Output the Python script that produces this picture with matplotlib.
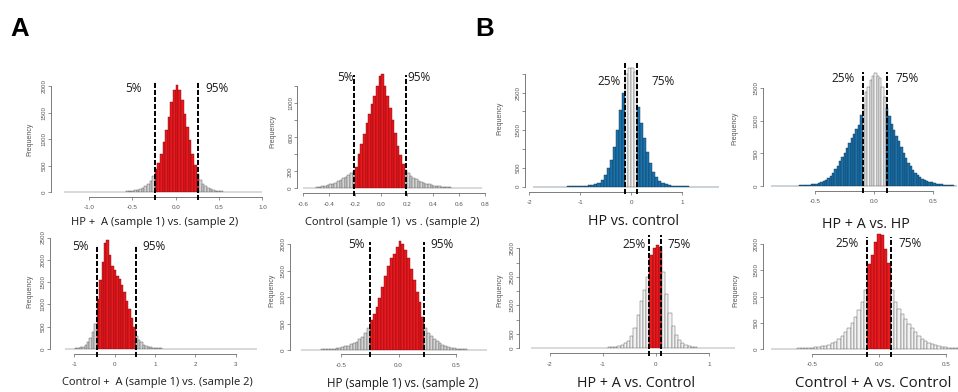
import numpy as np
import matplotlib.pyplot as plt

W, H = 958, 392

# ---- bin counts (left to right) ----
# panel A: sample-vs-sample comparisons, 5% / 95% cut lines
a1_counts = [0, 1, 0, 0, 1, 0, 1, 1, 0, 1, 2, 1, 2, 2, 3, 3, 4, 5, 6, 7, 8, 10,
             12, 15, 19, 24, 30, 38, 50, 65, 85, 115, 160, 220, 300,
             440, 560, 720, 950, 1170, 1420, 1700, 1930, 2010, 1930, 1740, 1470, 1230, 980, 720, 520, 340,
             230, 160, 115, 80, 58, 42, 30, 22, 16, 12, 9, 7, 5, 4, 3, 2, 2, 1, 1, 1, 0, 1, 0, 1]
a1_start, a1_width = -1.29, 0.03
a1_cuts = [-0.24, 0.26]

a2_counts = [3, 2, 4, 6, 8, 11, 16, 22, 28, 36, 45, 55, 68, 85, 100, 118, 135, 155, 178, 205,
             250, 400, 520, 640, 770, 880, 990, 1090, 1200, 1320, 1340, 1200, 1080, 950, 800, 650, 500, 390, 290,
             215, 175, 145, 122, 105, 88, 75, 64, 55, 46, 38, 32, 27, 22, 18, 15, 12, 10, 8, 7, 5, 4, 4, 3, 2, 2, 1, 1, 1, 1]
a2_start, a2_width = -0.6, 0.02
a2_cuts = [-0.207, 0.188]

a3_counts = [2, 3, 5, 8, 14, 22, 35, 55, 90, 150, 240, 380, 560,
             1130, 1550, 1960, 2380, 2450, 2100, 1850, 1770, 1640, 1560, 1440, 1270, 1080, 900, 700, 500,
             300, 210, 150, 100, 72, 52, 40, 30, 24, 18, 14, 11, 9, 7, 6, 5,
             4, 4, 3, 3, 3, 2, 2, 2, 2, 1, 1, 1, 1, 1, 1, 1, 0, 1, 1, 0, 1, 0, 1, 0, 0, 1, 0, 1, 0, 0, 1, 0, 0, 1]
a3_start, a3_width = -1.22, 0.06
a3_cuts = [-0.44, 0.52]

a4_counts = [2, 2, 3, 4, 5, 7, 9, 11, 14, 18, 22, 28, 35, 44, 55, 68, 85, 105, 130, 160, 200, 250, 320, 420,
             560, 680, 810, 990, 1190, 1400, 1600, 1740, 1810, 1960, 2070, 2010, 1890, 1740, 1540, 1330, 1100, 900, 620,
             420, 330, 270, 210, 165, 130, 100, 78, 60, 46, 35, 27, 20, 15, 11, 8, 6, 5, 3, 2, 2, 1]
a4_start, a4_width = -0.85, 0.025
a4_cuts = [-0.249, 0.226]

# panel B: group comparisons, 25% / 75% cut lines
b1_counts = [1, 0, 1, 1, 1, 2, 2, 3, 3, 4, 5, 6, 7, 9, 12, 15, 20, 28, 38, 52, 75, 110, 180, 310, 490, 710,
             1060, 1510, 2040, 2480,
             3010, 3170, 3160, 3060,
             2130, 1690, 1290, 930, 620, 400, 265, 160, 95, 62, 42, 30, 22, 16, 12, 9, 7, 5, 4, 3, 3, 2, 2, 1, 1, 1, 1]
b1_start, b1_width = -1.92, 0.06
b1_cuts = [-0.118, 0.11]

b2_counts = [1, 1, 0, 1, 2, 1, 2, 3, 3, 4, 5, 6, 8, 10, 13, 16, 20, 25, 30, 38, 48, 60, 75, 95, 125, 160, 205,
             255, 310, 380, 440, 500, 580, 660, 740, 790, 870, 930, 1090,
             1240, 1440, 1520, 1620, 1690, 1740, 1680, 1650, 1520, 1370,
             1190, 1080, 950, 860, 770, 690, 600, 510, 430, 360, 300, 250, 205, 170, 140, 115, 95, 80, 66, 55,
             45, 37, 30, 25, 20, 16, 12, 10, 8, 6]
b2_start, b2_width = -0.88, 0.02
b2_cuts = [-0.093, 0.105]

b3_counts = [1, 1, 0, 1, 1, 0, 1, 1, 1, 2, 1, 2, 2, 3, 3, 4, 5, 6, 7, 9, 11, 14, 18, 23, 30, 40, 55, 75, 110,
             170, 260, 420, 700, 1150, 1650, 2050, 2500,
             3250, 3520, 3600, 3560,
             2680, 1900, 1250, 780, 480, 300, 180, 110, 72, 50, 36, 26, 19, 14, 10, 8, 6, 5, 4, 3, 2, 2, 1]
b3_start, b3_width = -2.34, 0.06
b3_cuts = [-0.126, 0.1]

b4_counts = [1, 1, 2, 3, 4, 5, 7, 9, 11, 14, 18, 22, 28, 34, 42, 52, 65, 82, 105, 140, 190, 250, 320, 400,
             500, 620, 750, 900, 1120,
             1620, 1800, 2050, 2200, 2170, 1900, 1650,
             1120, 900, 760, 660, 570, 480, 400, 320, 250, 195, 150, 115, 90, 70, 55, 44, 35, 28, 22, 17, 13]
b4_start, b4_width = -0.8125, 0.025
b4_cuts = [-0.088, 0.09]

# ---- axis ticks and texts ----
a1_xticks, a1_xlabels = [-1, -0.5, 0, 0.5, 1], ['-1.0', '-0.5', '0.0', '0.5', '1.0']
a1_yticks, a1_ylabels = [0, 500, 1000, 1500, 2000], ['0', '500', '1000', '1500', '2000']
a2_xticks = [-0.6, -0.4, -0.2, 0, 0.2, 0.4, 0.6, 0.8]
a2_xlabels = ['-0.6', '-0.4', '-0.2', '0.0', '0.2', '0.4', '0.6', '0.8']
a2_yticks, a2_ylabels = [0, 200, 400, 600, 800, 1000, 1200], ['0', '200', '', '600', '', '1000', '']
a3_xticks, a3_xlabels = [-1, 0, 1, 2, 3], ['-1', '0', '1', '2', '3']
a3_yticks, a3_ylabels = [0, 500, 1000, 1500, 2000, 2500], ['0', '500', '1000', '1500', '2000', '2500']
a4_xticks, a4_xlabels = [-0.5, 0, 0.5], ['-0.5', '0.0', '0.5']
a4_yticks, a4_ylabels = [0, 500, 1000, 1500, 2000], ['0', '500', '1000', '1500', '2000']
b1_xticks, b1_xlabels = [-2, -1, 0, 1], ['-2', '-1', '0', '1']
b1_yticks, b1_ylabels = [0, 500, 1000, 1500, 2000, 2500, 3000], ['0', '500', '', '1500', '', '2500', '']
b2_xticks, b2_xlabels = [-0.5, 0, 0.5], ['-0.5', '0.0', '0.5']
b2_yticks, b2_ylabels = [0, 500, 1000, 1500], ['0', '500', '1000', '1500']
b3_xticks, b3_xlabels = [-2, -1, 0, 1], ['-2', '-1', '0', '1']
b3_yticks = [0, 500, 1000, 1500, 2000, 2500, 3000, 3500]
b3_ylabels = ['0', '500', '', '1500', '', '2500', '', '3500']
b4_xticks, b4_xlabels = [-0.5, 0, 0.5], ['-0.5', '0.0', '0.5']
b4_yticks, b4_ylabels = [0, 500, 1000, 1500, 2000], ['0', '500', '1000', '1500', '2000']

a1_title = 'HP +  A (sample 1) vs. (sample 2)'
a2_title = 'Control (sample 1)  vs . (sample 2)'
a3_title = 'Control +  A (sample 1) vs. (sample 2)'
a4_title = 'HP (sample 1) vs. (sample 2)'
b1_title = 'HP vs. control'
b2_title = 'HP + A vs. HP'
b3_title = 'HP + A vs. Control'
b4_title = 'Control + A vs. Control'
a_cut_labels = ['5%', '95%']
b_cut_labels = ['25%', '75%']

# colours
RED, RED_EDGE = '#e8191f', '#7a0a0a'
GREY, GREY_EDGE = '#d4d4d4', '#505050'
BLUE, BLUE_EDGE = '#1c72aa', '#0c3350'
WHITE, WHITE_EDGE = '#f2f2f2', '#505050'

plt.rcParams['font.family'] = ['Liberation Sans', 'DejaVu Sans']
TXT_FONT = ['Open Sans', 'DejaVu Sans']

fig = plt.figure(figsize=(W / 100, H / 100), dpi=100)


def fig_xy(x, y):
    return x / W, 1 - y / H


def panel(counts, start, width, cuts, inner, outer, xticks, xlabels, yticks, ylabels,
          title, cut_labels, lay):
    x0, sx, y0, sy = lay['map']
    L, T, R, B = lay['rect']
    ax = fig.add_axes([L / W, 1 - B / H, (R - L) / W, (B - T) / H])
    ax.set_xlim((L - x0) / sx, (R - x0) / sx)
    ax.set_ylim((y0 - B) / sy, (y0 - T) / sy)
    ax.patch.set_visible(False)

    edges = start + width * np.arange(len(counts) + 1)
    centers = edges[:-1] + width / 2
    inside = (centers > cuts[0]) & (centers < cuts[1])
    fills = [inner[0] if k else outer[0] for k in inside]
    lines = [inner[1] if k else outer[1] for k in inside]
    ax.bar(edges[:-1], counts, width=width, align='edge', color=fills,
           edgecolor=lines, linewidth=0.3)

    # dashed quantile lines
    top, bot = lay['lines']
    for q in cuts:
        ax.plot([q, q], [(y0 - bot) / sy, (y0 - top) / sy], color='black', lw=1.4,
                ls=(0, (2.6, 1.0)), clip_on=False, zorder=5)

    # R-style detached axes
    ax.spines[['top', 'right']].set_visible(False)
    for s in ('left', 'bottom'):
        ax.spines[s].set_color('#666666')
        ax.spines[s].set_linewidth(0.6)
    ax.spines['bottom'].set_bounds(xticks[0], xticks[-1])
    ax.spines['left'].set_bounds(0, yticks[-1])
    ax.set_xticks(xticks)
    ax.set_xticklabels(xlabels)
    ax.set_yticks(yticks)
    ax.set_yticklabels(ylabels)
    ax.tick_params(direction='out', length=2, width=0.5, color='#666666',
                   labelsize=4.5, labelcolor='#555555')
    ax.tick_params(axis='x', pad=4)
    ax.tick_params(axis='y', pad=1, labelrotation=90)
    for lbl in ax.get_yticklabels():
        lbl.set_va('center')

    fx, fy = fig_xy(*lay['freq'])
    fig.text(fx, fy, 'Frequency', rotation=90, ha='center', va='center',
             fontsize=5, color='#555555')
    tx, ty, tsize = lay['title']
    fig.text(*fig_xy(tx, ty), title, ha='center', va='center', fontsize=tsize,
             family=TXT_FONT, color='#1a1a1a')
    for txt, (px, py) in zip(cut_labels, lay['cut_pos']):
        fig.text(*fig_xy(px, py), txt, ha='center', va='center', fontsize=8.5,
                 family=TXT_FONT, color='#1a1a1a')
    return ax


# layout in pixels: map = (x of 0, px per unit, y of 0, px per count)
layouts = {
    'a1': dict(map=(175.7, 86.7, 192.3, 0.0532), rect=(51, 70, 268, 197), lines=(82, 200),
               cut_pos=[(133, 88), (217, 88)], title=(155, 222, 8), freq=(30, 139)),
    'a2': dict(map=(381.2, 129.8, 188.3, 0.085), rect=(297.3, 65, 490, 193.3), lines=(75, 196),
               cut_pos=[(345.5, 77.7), (418.8, 77.7)], title=(392, 222, 8), freq=(273, 131.7)),
    'a3': dict(map=(114.5, 40.4, 349, 0.0446), rect=(50, 232, 262, 354), lines=(245, 357),
               cut_pos=[(80.7, 246), (154, 246)], title=(157, 383, 8), freq=(30, 291.7)),
    'a4': dict(map=(398.5, 114.3, 350, 0.0528), rect=(290, 232, 492, 354.3), lines=(241.7, 357),
               cut_pos=[(356.7, 244), (442, 244)], title=(403, 383, 8.4), freq=(271.7, 290)),
    'b1': dict(map=(631, 50.8, 186.7, 0.0376), rect=(525, 55, 725, 191.7), lines=(63.3, 194),
               cut_pos=[(609.3, 81.7), (662.7, 81.7)], title=(633.3, 221.7, 10.3), freq=(500, 118)),
    'b2': dict(map=(874.3, 117.7, 186, 0.0652), rect=(762.7, 62, 958, 190.7), lines=(71.7, 193),
               cut_pos=[(843.3, 78.3), (906.7, 78.3)], title=(865.7, 224, 10.3), freq=(735, 128)),
    'b3': dict(map=(655.7, 53.1, 348.3, 0.02857), rect=(519, 228, 742, 353.3), lines=(235, 356),
               cut_pos=[(634, 244.3), (679.3, 244.3)], title=(636, 383.5, 10.3), freq=(500, 290)),
    'b4': dict(map=(879, 133.3, 349, 0.0524), rect=(762.7, 228, 958, 354), lines=(236.7, 357),
               cut_pos=[(846.7, 243.3), (910, 243.3)], title=(873, 383.5, 10.8), freq=(736, 290)),
}

red, grey, blue, white = (RED, RED_EDGE), (GREY, GREY_EDGE), (BLUE, BLUE_EDGE), (WHITE, WHITE_EDGE)

panel(a1_counts, a1_start, a1_width, a1_cuts, red, grey, a1_xticks, a1_xlabels,
      a1_yticks, a1_ylabels, a1_title, a_cut_labels, layouts['a1'])
panel(a2_counts, a2_start, a2_width, a2_cuts, red, grey, a2_xticks, a2_xlabels,
      a2_yticks, a2_ylabels, a2_title, a_cut_labels, layouts['a2'])
panel(a3_counts, a3_start, a3_width, a3_cuts, red, grey, a3_xticks, a3_xlabels,
      a3_yticks, a3_ylabels, a3_title, a_cut_labels, layouts['a3'])
panel(a4_counts, a4_start, a4_width, a4_cuts, red, grey, a4_xticks, a4_xlabels,
      a4_yticks, a4_ylabels, a4_title, a_cut_labels, layouts['a4'])
panel(b1_counts, b1_start, b1_width, b1_cuts, white, blue, b1_xticks, b1_xlabels,
      b1_yticks, b1_ylabels, b1_title, b_cut_labels, layouts['b1'])
panel(b2_counts, b2_start, b2_width, b2_cuts, white, blue, b2_xticks, b2_xlabels,
      b2_yticks, b2_ylabels, b2_title, b_cut_labels, layouts['b2'])
panel(b3_counts, b3_start, b3_width, b3_cuts, red, white, b3_xticks, b3_xlabels,
      b3_yticks, b3_ylabels, b3_title, b_cut_labels, layouts['b3'])
panel(b4_counts, b4_start, b4_width, b4_cuts, red, white, b4_xticks, b4_xlabels,
      b4_yticks, b4_ylabels, b4_title, b_cut_labels, layouts['b4'])

# panel letters
fig.text(*fig_xy(20, 29), 'A', ha='center', va='center', fontsize=18.5, fontweight='bold')
fig.text(*fig_xy(485, 29), 'B', ha='center', va='center', fontsize=18.5, fontweight='bold')

fig.savefig('out.png', dpi=100)
